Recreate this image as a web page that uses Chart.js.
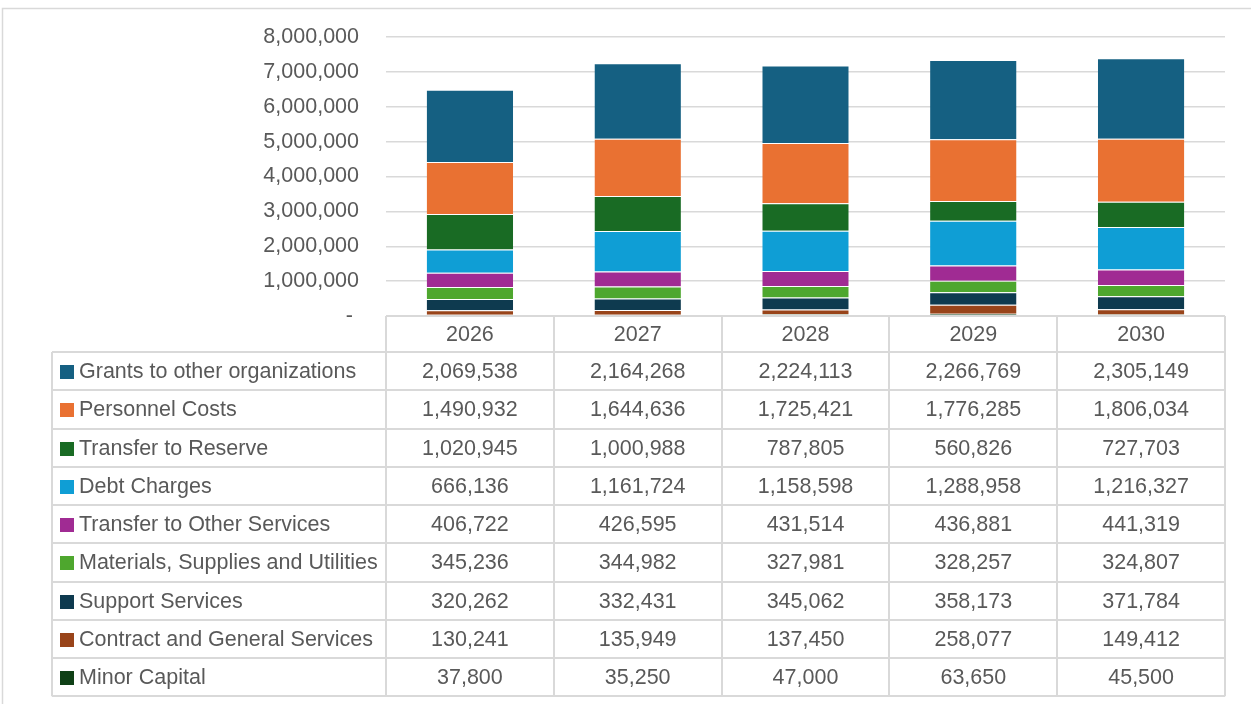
<!DOCTYPE html>
<html>
<head>
<meta charset="utf-8">
<script src="https://cdn.jsdelivr.net/npm/chart.js@4/dist/chart.umd.min.js"></script>
<style>
  html, body { margin: 0; padding: 0; background: #ffffff; }
  #wrap { position: relative; width: 1251px; height: 704px; }
  canvas { display: block; }
</style>
</head>
<body>
<div id="wrap"><canvas id="c" width="1251" height="704"></canvas></div>
<script>
// ---- Data ----
const categories = ['2026', '2027', '2028', '2029', '2030'];

const grantsToOtherOrganizations = [2069538, 2164268, 2224113, 2266769, 2305149];
const personnelCosts            = [1490932, 1644636, 1725421, 1776285, 1806034];
const transferToReserve         = [1020945, 1000988, 787805, 560826, 727703];
const debtCharges               = [666136, 1161724, 1158598, 1288958, 1216327];
const transferToOtherServices   = [406722, 426595, 431514, 436881, 441319];
const materialsSuppliesUtilities= [345236, 344982, 327981, 328257, 324807];
const supportServices           = [320262, 332431, 345062, 358173, 371784];
const contractGeneralServices   = [130241, 135949, 137450, 258077, 149412];
const minorCapital              = [37800, 35250, 47000, 63650, 45500];

const yTickValues = [0, 1000000, 2000000, 3000000, 4000000, 5000000, 6000000, 7000000, 8000000];

// Series in table (legend) order: top of stack first
const seriesNames = [
  'Grants to other organizations',
  'Personnel Costs',
  'Transfer to Reserve',
  'Debt Charges',
  'Transfer to Other Services',
  'Materials, Supplies and Utilities',
  'Support Services',
  'Contract and General Services',
  'Minor Capital'
];
const seriesValues = [
  grantsToOtherOrganizations, personnelCosts, transferToReserve, debtCharges,
  transferToOtherServices, materialsSuppliesUtilities, supportServices,
  contractGeneralServices, minorCapital
];
const seriesColors = [
  '#156082', '#E97132', '#196B24', '#0F9ED5', '#A02B93',
  '#4EA72E', '#0E3A4F', '#99441A', '#0F4016'
];

// ---- Styles ----
const FONT = '"Liberation Sans", Arial, sans-serif';
const FONT_SIZE = 21.5;
const TEXT_COLOR = '#595959';
const LINE_COLOR = '#d9d9d9';

const fmt = v => v.toLocaleString('en-US');

// Datasets stacked bottom-up: reverse of table order
const datasets = seriesNames.map((name, i) => ({
  label: name,
  data: seriesValues[i],
  backgroundColor: seriesColors[i],
  borderColor: 'rgba(255,255,255,0.35)',
  borderWidth: { top: 1, left: 0, right: 0, bottom: 0 },
  borderSkipped: false,
  stack: 's'
})).reverse();

// Data table + outer frame drawn from chart scales and data
const tablePlugin = {
  id: 'dataTable',
  afterDraw(chart) {
    const ctx = chart.ctx;
    const area = chart.chartArea;
    const xs = chart.scales.x;
    const n = categories.length;
    const colW = (area.right - area.left) / n;
    const tableLeft = 52;
    const headerTop = area.bottom;
    const headerH = 36;
    const rowH = 38.25;
    const rows = seriesNames.length;
    const tableBottom = headerTop + headerH + rows * rowH;

    ctx.save();
    // outer frame
    ctx.strokeStyle = LINE_COLOR;
    ctx.lineWidth = 1.5;
    ctx.strokeRect(2.5, 8.5, 1400, 900);

    ctx.lineWidth = 2;
    ctx.strokeStyle = LINE_COLOR;
    ctx.beginPath();
    // header top line (axis line)
    ctx.moveTo(area.left, headerTop); ctx.lineTo(area.right, headerTop);
    // row lines
    for (let r = 0; r <= rows; r++) {
      const y = Math.round(headerTop + headerH + r * rowH);
      ctx.moveTo(tableLeft, y); ctx.lineTo(area.right, y);
    }
    // vertical lines
    ctx.moveTo(tableLeft, headerTop + headerH); ctx.lineTo(tableLeft, tableBottom);
    for (let c = 0; c <= n; c++) {
      const x = Math.round(area.left + c * colW);
      ctx.moveTo(x, headerTop); ctx.lineTo(x, tableBottom);
    }
    ctx.stroke();

    ctx.fillStyle = TEXT_COLOR;
    ctx.font = FONT_SIZE + 'px ' + FONT;
    ctx.textBaseline = 'middle';
    // header
    ctx.textAlign = 'center';
    categories.forEach((cat, i) => {
      ctx.fillText(cat, xs.getPixelForValue(i), headerTop + headerH / 2 + 1);
    });
    // rows
    seriesNames.forEach((name, r) => {
      const yc = headerTop + headerH + r * rowH + rowH / 2 + 1;
      ctx.fillStyle = seriesColors[r];
      ctx.fillRect(60, Math.round(yc - 7), 14, 14);
      ctx.fillStyle = TEXT_COLOR;
      ctx.textAlign = 'left';
      ctx.fillText(name, 79, yc);
      ctx.textAlign = 'center';
      seriesValues[r].forEach((v, i) => {
        ctx.fillText(fmt(v), xs.getPixelForValue(i), yc);
      });
    });
    ctx.restore();
  }
};

new Chart(document.getElementById('c'), {
  type: 'bar',
  data: { labels: categories, datasets },
  options: {
    responsive: false,
    animation: false,
    devicePixelRatio: 1,
    layout: { padding: { left: 0, top: 37, right: 26, bottom: 388 } },
    plugins: { legend: { display: false }, tooltip: { enabled: false } },
    datasets: { bar: { barPercentage: 0.515, categoryPercentage: 1 } },
    scales: {
      x: {
        stacked: true,
        display: false
      },
      y: {
        stacked: true,
        min: 0,
        max: 8000000,
        afterFit(scale) { scale.width = 386; },
        afterBuildTicks(scale) { scale.ticks = yTickValues.map(v => ({ value: v })); },
        border: { display: false },
        grid: { color: LINE_COLOR, lineWidth: 1.5, drawTicks: false },
        ticks: {
          padding: 27,
          color: TEXT_COLOR,
          font: { family: FONT, size: FONT_SIZE, lineHeight: 0.9 },
          callback: v => (v === 0 ? '- ' : fmt(v))
        }
      }
    }
  },
  plugins: [tablePlugin]
});
</script>
</body>
</html>
